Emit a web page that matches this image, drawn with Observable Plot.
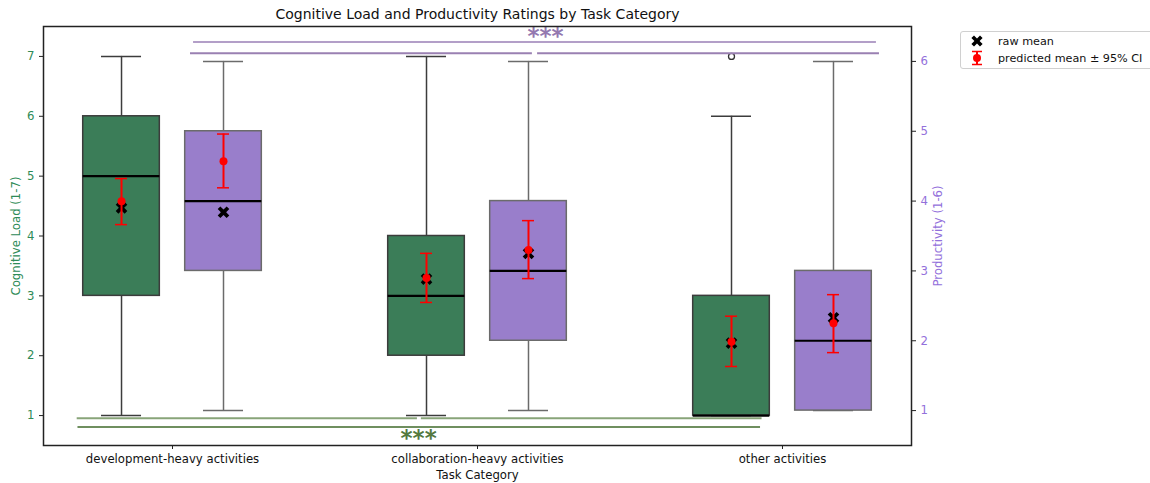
<!DOCTYPE html>
<html><head><meta charset="utf-8">
<script src="https://cdn.jsdelivr.net/npm/d3@7"></script>
<script src="https://cdn.jsdelivr.net/npm/@observablehq/plot@0.6"></script>
<style>
html,body{margin:0;padding:0;background:#fff;overflow:hidden;}
#wrap{position:relative;width:1150px;height:483px;font-family:"DejaVu Sans",sans-serif;}
#legend{position:absolute;left:960px;top:31px;width:205px;height:36px;border:1px solid #d0d0d0;border-radius:3px;background:#fff;font-size:11.2px;color:#111;}
#legend .row{position:absolute;left:0;height:16px;display:flex;align-items:center;white-space:nowrap;}
#legend svg{width:30px;height:16px;}
#legend span{margin-left:3px;}
</style></head><body><div id="wrap"></div>
<script>
// ---- data ----
const categories = ["development-heavy activities", "collaboration-heavy activities", "other activities"];
// Cognitive load (1-7)
const cogWhiskerLow = [1, 1, 1];
const cogQ1 = [3, 2, 1];
const cogMedian = [5, 3, 1];
const cogQ3 = [6, 4, 3];
const cogWhiskerHigh = [7, 7, 6];
const cogOutliers = [{cat: 2, value: 7}];
const cogRawMean = [4.47, 3.28, 2.21];
const cogPredMean = [4.58, 3.30, 2.235];
const cogCiLow = [4.19, 2.89, 1.82];
const cogCiHigh = [4.96, 3.71, 2.66];
// Productivity (1-6)
const prodWhiskerLow = [1, 1, 1];
const prodQ1 = [3, 2, 1];
const prodMedian = [4, 3, 2];
const prodQ3 = [5, 4, 3];
const prodWhiskerHigh = [6, 6, 6];
const prodRawMean = [3.84, 3.25, 2.33];
const prodPredMean = [4.57, 3.30, 2.25];
const prodCiLow = [4.19, 2.89, 1.83];
const prodCiHigh = [4.96, 3.72, 2.66];
const cogTicks = [1, 2, 3, 4, 5, 6, 7];
const prodTicks = [1, 2, 3, 4, 5, 6];

// ---- layout constants ----
const GREEN = "#3b7d58", PURPLE = "#997ecb";
const off = 0.1672, half = 0.1256, capHalf = 0.0656, errCap = 0.0197;
// productivity plotted on the left (0.5..7.5) scale via the twin-axis mapping 0.5..6.5
const toL = p => 0.5 + (p - 0.5) * 7 / 6;
const fromL = y => Math.round((y - 0.5) * 6 / 7 + 0.5);

function series(sign, lo, q1, med, q3, hi, raw, pm, cl, ch, conv, fill, edge) {
  return categories.map((c, i) => ({
    x: i + sign * off, lo: conv(lo[i]), q1: conv(q1[i]), med: conv(med[i]), q3: conv(q3[i]), hi: conv(hi[i]),
    raw: conv(raw[i]), pm: conv(pm[i]), cl: conv(cl[i]), ch: conv(ch[i]), fill, edge
  }));
}
const id = v => v;
const rows = [
  ...series(-1, cogWhiskerLow, cogQ1, cogMedian, cogQ3, cogWhiskerHigh, cogRawMean, cogPredMean, cogCiLow, cogCiHigh, id, GREEN, "#3c3c3c"),
  ...series(1, prodWhiskerLow, prodQ1, prodMedian, prodQ3, prodWhiskerHigh, prodRawMean, prodPredMean, prodCiLow, prodCiHigh, toL, PURPLE, "#6b6b6b")
];

const xSym = {draw(ctx, size) {
  const a = Math.sqrt(size / Math.PI), k = a * 0.46;
  const pts = [[0,-k],[a-k,-a],[a,-a+k],[k,0],[a,a-k],[a-k,a],[0,k],[-a+k,a],[-a,a-k],[-k,0],[-a,-a+k],[-a+k,-a]];
  ctx.moveTo(pts[0][0], pts[0][1]);
  for (const p of pts.slice(1)) ctx.lineTo(p[0], p[1]);
  ctx.closePath();
}};

const sigLines = [
  {x1: 0.069, x2: 2.308, y: 7.24, s: "#b39fc8"},
  {x1: 0.059, x2: 1.180, y: 7.055, s: "#9a80b2"},
  {x1: 1.197, x2: 2.318, y: 7.055, s: "#9a80b2"},
  {x1: -0.3125, x2: 0.803, y: 0.957, s: "#88a479"},
  {x1: 0.816, x2: 1.933, y: 0.957, s: "#88a479"},
  {x1: -0.31, x2: 1.928, y: 0.807, s: "#6f8f5f"}
];

const plot = Plot.plot({
  width: 1150, height: 483,
  marginLeft: 43, marginRight: 239, marginTop: 26, marginBottom: 38,
  style: {fontFamily: "DejaVu Sans, sans-serif", fontSize: "11.7px", background: "white", color: "#222"},
  x: {type: "linear", domain: [-0.423, 2.423]},
  y: {domain: [0.5, 7.5]},
  marks: [
    // whiskers
    Plot.ruleX(rows, {x: "x", y1: "lo", y2: "q1", stroke: "edge", strokeWidth: 1.5}),
    Plot.ruleX(rows, {x: "x", y1: "q3", y2: "hi", stroke: "edge", strokeWidth: 1.5}),
    Plot.ruleY(rows, {y: "lo", x1: d => d.x - capHalf, x2: d => d.x + capHalf, stroke: "edge", strokeWidth: 1.5}),
    Plot.ruleY(rows, {y: "hi", x1: d => d.x - capHalf, x2: d => d.x + capHalf, stroke: "edge", strokeWidth: 1.5}),
    // boxes
    Plot.rect(rows, {x1: d => d.x - half, x2: d => d.x + half, y1: "q1", y2: "q3", fill: "fill", stroke: "edge", strokeWidth: 1.5}),
    Plot.ruleY(rows, {y: "med", x1: d => d.x - half, x2: d => d.x + half, stroke: "black", strokeWidth: 2.2}),
    // outliers
    Plot.dot(cogOutliers, {x: d => d.cat - off, y: "value", r: 3, stroke: "#333", fill: "white", strokeWidth: 1.3}),
    // raw means
    Plot.dot(rows, {x: "x", y: "raw", symbol: xSym, r: 5.8, fill: "black", stroke: "none"}),
    // predicted means ± CI
    Plot.ruleX(rows, {x: "x", y1: "cl", y2: "ch", stroke: "red", strokeWidth: 2}),
    Plot.ruleY(rows, {y: "cl", x1: d => d.x - errCap, x2: d => d.x + errCap, stroke: "red", strokeWidth: 1.5}),
    Plot.ruleY(rows, {y: "ch", x1: d => d.x - errCap, x2: d => d.x + errCap, stroke: "red", strokeWidth: 1.5}),
    Plot.dot(rows, {x: "x", y: "pm", r: 4, fill: "red"}),
    // significance brackets
    Plot.ruleY(sigLines, {y: "y", x1: "x1", x2: "x2", stroke: "s", strokeWidth: 2}),
    Plot.text(["***"], {x: 1.223, y: 7.38, dy: 3, fill: "#9478b0", fontSize: 23, letterSpacing: 1, fontWeight: "bold"}),
    Plot.text(["***"], {x: 0.807, y: 0.645, dy: 2, fill: "#54793f", fontSize: 23, letterSpacing: 1, fontWeight: "bold"}),
    // frame and axes
    Plot.frame({stroke: "#222", strokeWidth: 1.5}),
    Plot.axisX({ticks: [0, 1, 2], tickFormat: i => categories[i], tickSize: 4, tickPadding: 5, stroke: "#222", fill: "#111",
      label: "Task Category", labelAnchor: "center", labelArrow: "none", labelOffset: 33}),
    Plot.axisY({ticks: cogTicks, tickFormat: d => String(d), tickSize: 4, tickPadding: 5, stroke: "#222", fill: "#2e8b57",
      label: "Cognitive Load (1-7)", labelAnchor: "center", labelArrow: "none", labelOffset: 32}),
    Plot.axisY({anchor: "right", ticks: prodTicks.map(toL), tickFormat: fromL, tickSize: 4, tickPadding: 5, stroke: "#222", fill: "#9370db",
      label: "Productivity (1-6)", labelAnchor: "center", labelArrow: "none", labelOffset: 30}),
    Plot.text(["Cognitive Load and Productivity Ratings by Task Category"], {frameAnchor: "top", lineAnchor: "middle", dy: -12, fontSize: 14, fill: "#111"})
  ]
});
const wrap = document.getElementById("wrap");
wrap.appendChild(plot);
const lg = document.createElement("div");
lg.id = "legend";
lg.innerHTML = `
<div class="row" style="top:1px;left:4px"><svg viewBox="0 0 30 16"><path transform="translate(12,8)" d="M0,-2.6L3,-5.6L5.6,-3L2.6,0L5.6,3L3,5.6L0,2.6L-3,5.6L-5.6,3L-2.6,0L-5.6,-3L-3,-5.6Z" fill="black"/></svg><span>raw mean</span></div>
<div class="row" style="top:18px;left:4px"><svg viewBox="0 0 30 16"><line x1="12" x2="12" y1="1" y2="15" stroke="red" stroke-width="2"/><line x1="7" x2="17" y1="1.5" y2="1.5" stroke="red" stroke-width="1.5"/><line x1="7" x2="17" y1="14.5" y2="14.5" stroke="red" stroke-width="1.5"/><circle cx="12" cy="8" r="4" fill="red"/></svg><span>predicted mean ± 95% CI</span></div>`;
wrap.appendChild(lg);
</script>
</body></html>
